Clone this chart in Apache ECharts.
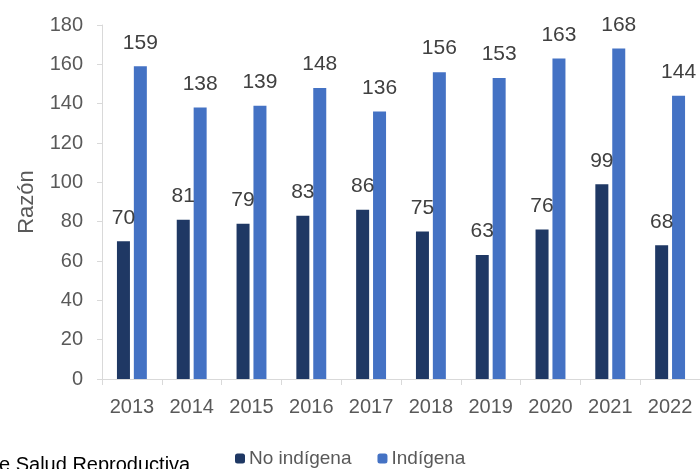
<!DOCTYPE html>
<html><head><meta charset="utf-8">
<script src="https://cdn.jsdelivr.net/npm/echarts@6/dist/echarts.min.js"></script>
<style>html,body{margin:0;padding:0;background:#fff}#c{width:700px;height:469px}</style>
</head><body><div id="c"></div>
<script>
const years = ['2013','2014','2015','2016','2017','2018','2019','2020','2021','2022'];
const noIndigena = [70,81,79,83,86,75,63,76,99,68];
const indigena = [159,138,139,148,136,156,153,163,168,144];
const yTicks = [0,20,40,60,80,100,120,140,160,180];

const chart = echarts.init(document.getElementById('c'));
const FF = 'Liberation Sans, Arial';
const lbl = {show:true, position:'top', color:'#404040', fontSize:21, fontFamily:FF, distance:13};
chart.setOption({
  animation:false,
  textStyle:{fontFamily:FF},
  grid:{left:102, right:0, top:25, bottom:90},
  legend:{
    top:444, left:230, itemWidth:10, itemHeight:10, itemGap:26,
    textStyle:{color:'#595959', fontSize:19, padding:[0,0,0,-1]},
    data:['No indígena','Indígena']
  },
  xAxis:{
    type:'category', data:years,
    axisLine:{lineStyle:{color:'#d9d9d9', width:1}},
    axisTick:{show:true, length:6, lineStyle:{color:'#d9d9d9'}},
    axisLabel:{color:'#595959', fontSize:20, margin:18}
  },
  yAxis:{
    type:'value', min:yTicks[0], max:yTicks[yTicks.length-1], interval:20,
    name:'Razón', nameLocation:'middle', nameGap:64, nameRotate:90,
    nameTextStyle:{color:'#595959', fontSize:22},
    axisLine:{show:true, lineStyle:{color:'#d9d9d9'}},
    axisTick:{show:true, length:5, lineStyle:{color:'#d9d9d9'}},
    splitLine:{show:false},
    axisLabel:{color:'#595959', fontSize:20, margin:19}
  },
  series:[
    {name:'No indígena', type:'bar', data:noIndigena, barCategoryGap:'50%', barGap:'30%',
     itemStyle:{color:'#1f3864'}, label:lbl},
    {name:'Indígena', type:'bar', data:indigena, barCategoryGap:'50%', barGap:'30%',
     itemStyle:{color:'#4472c4'}, label:lbl}
  ],
  graphic:[{type:'text', left:-1, top:455, style:{text:'e Salud Reproductiva', fill:'#000', font:'20px Liberation Sans, Arial'}}]
});
</script></body></html>
